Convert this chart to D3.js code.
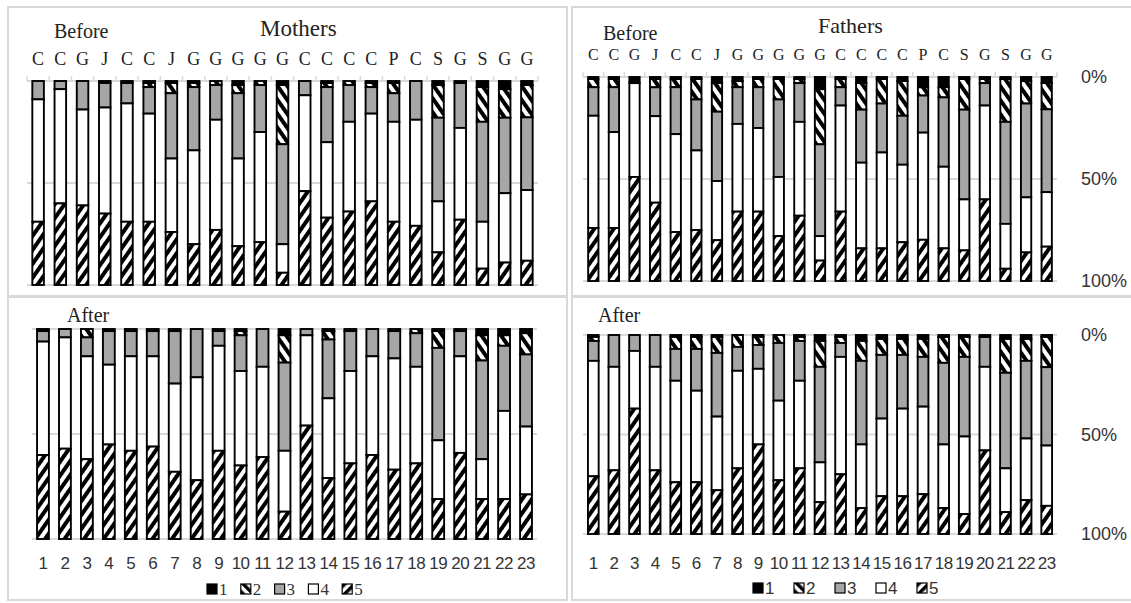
<!DOCTYPE html>
<html>
<head>
<meta charset="utf-8">
<script src="https://cdn.jsdelivr.net/npm/d3@7"></script>
<style>
  body { margin: 0; background: #fff; }
  svg { display: block; }
</style>
</head>
<body>
<svg id="chart" width="1131" height="603"></svg>
<script>
const letters = ["C","C","G","J","C","C","J","G","G","G","G","G","C","C","C","C","P","C","S","G","S","G","G"];
const numbers = ["1","2","3","4","5","6","7","8","9","10","11","12","13","14","15","16","17","18","19","20","21","22","23"];
const levels = ["1","2","3","4","5"];
const pctTicks = ["0%","50%","100%"];

// shares per respondent, levels 1..5 (stacked top to bottom)
const mothersBefore = [
  [0,0,9,60,31],[0,0,4,56,40],[0,0,14,47,39],[1,0,12,52,35],[0,1,10,58,31],
  [1,2,13,53,31],[1,5,32,36,26],[1,2,31,46,20],[0,2,17,54,27],[2,4,32,43,19],
  [0,2,23,54,21],[2,29,49,14,6],[0,0,7,47,46],[1,2,27,37,33],[0,2,18,44,36],
  [1,2,13,43,41],[1,5,14,49,31],[0,0,19,52,29],[2,16,41,25,16],[1,0,22,45,32],
  [3,17,49,23,8],[4,14,37,34,11],[2,16,36,35,12]
];
const fathersBefore = [
  [1,4,14,55,26],[1,4,22,47,26],[3,0,0,46,51],[1,4,14,42,38],[1,4,23,48,24],
  [1,10,25,39,25],[3,14,34,29,20],[2,3,18,43,34],[1,4,20,41,34],[1,10,38,29,22],
  [1,2,19,46,32],[6,27,45,12,10],[1,4,9,52,34],[3,13,26,42,16],[1,12,24,47,16],
  [2,17,24,38,19],[5,4,18,52,20],[5,5,34,40,16],[1,15,44,25,15],[1,2,11,46,40],
  [1,21,50,22,6],[2,11,46,27,14],[3,13,41,27,17]
];
const mothersAfter = [
  [1,0,5,54,40],[0,0,4,53,43],[0,4,9,49,38],[0,1,16,38,45],[0,1,12,45,42],
  [0,1,12,43,44],[0,1,25,42,32],[0,0,23,49,28],[0,1,7,50,42],[1,2,17,45,35],
  [0,0,18,43,39],[3,13,42,29,13],[0,0,3,43,54],[1,4,28,38,29],[0,1,19,44,36],
  [0,0,13,47,40],[0,1,13,53,33],[0,2,16,46,36],[1,8,44,28,19],[0,1,12,46,41],
  [3,12,47,19,19],[3,5,31,42,19],[2,10,34,32,21]
];
const fathersAfter = [
  [1,2,10,58,29],[0,0,16,52,32],[0,0,8,29,63],[0,0,16,52,32],[1,6,16,51,26],
  [1,6,21,46,26],[1,8,32,37,22],[0,6,12,49,33],[1,4,12,38,45],[0,4,29,40,27],
  [1,2,20,44,33],[3,13,48,20,16],[1,3,7,59,30],[3,10,42,32,13],[2,8,32,39,19],
  [2,8,27,44,19],[2,9,25,44,20],[1,13,41,32,13],[1,10,40,39,10],[1,0,15,42,42],
  [2,17,48,22,11],[2,11,39,31,17],[1,15,39,30,14]
];

const svg = d3.select("#chart");
const serif = "'Liberation Serif', 'Times New Roman', serif";
const sans = "'Liberation Sans', Arial, sans-serif";
const gridColor = "#d9d9d9";

// hatch patterns
const defs = svg.append("defs");
function hatch(id, angle, size) {
  defs.append("pattern")
    .attr("id", id)
    .attr("patternUnits", "userSpaceOnUse")
    .attr("width", size).attr("height", size)
    .attr("patternTransform", "rotate(" + angle + ")")
    .call(p => {
      p.append("rect").attr("width", size).attr("height", size).attr("fill", "#fff");
      p.append("rect").attr("width", size / 2).attr("height", size).attr("fill", "#000");
    });
}
hatch("hatchBack", -35, 8);  // level 2 "\"
hatch("hatchFwd", 35, 8);    // level 5 "/"
hatch("legBack", -45, 7);
hatch("legFwd", 45, 7);

const fills = { "1": "#000", "2": "url(#hatchBack)", "3": "#a6a6a6", "4": "#fff", "5": "url(#hatchFwd)" };
const legFills = { "1": "#000", "2": "url(#legBack)", "3": "#a6a6a6", "4": "#fff", "5": "url(#legFwd)" };

// panel frames
const frames = [[8,7,559,289],[572,7,565,289],[8,297,559,303],[572,297,565,303]];
svg.selectAll("rect.frame").data(frames).enter().append("rect")
  .attr("class", "frame")
  .attr("x", d => d[0]).attr("y", d => d[1])
  .attr("width", d => d[2]).attr("height", d => d[3])
  .attr("fill", "none").attr("stroke", gridColor).attr("stroke-width", 2);

const stack = d3.stack()
  .keys(d3.range(5))
  .value((d, k) => d[k])
  .offset(d3.stackOffsetExpand);

function panel(opts) {
  const g = svg.append("g");
  const x = d3.scaleBand().domain(d3.range(23)).range([opts.x0, opts.x1]).paddingInner(opts.pad).paddingOuter(opts.pad / 2);
  const y = d3.scaleLinear().domain([0, 1]).range([opts.y0, opts.y1]);

  // gridlines
  g.selectAll("line.grid").data([0, 0.5, 1]).enter().append("line")
    .attr("x1", opts.x0).attr("x2", opts.x1)
    .attr("y1", d => y(d)).attr("y2", d => y(d))
    .attr("stroke", gridColor).attr("stroke-width", 2);

  if (opts.top) {
    // category axis on top with upward ticks
    const ticks = d3.range(24).map(i => opts.x0 + i * x.step());
    g.selectAll("line.tick").data(ticks).enter().append("line")
      .attr("x1", d => d).attr("x2", d => d)
      .attr("y1", y(0)).attr("y2", y(0) - 5)
      .attr("stroke", gridColor).attr("stroke-width", 1.5);
    g.selectAll("text.cat").data(letters).enter().append("text")
      .attr("x", (d, i) => x(i) + x.bandwidth() / 2)
      .attr("y", opts.labelY)
      .attr("text-anchor", "middle")
      .attr("font-family", serif).attr("font-size", opts.catSize).attr("fill", "#222")
      .text(d => d);
  } else {
    g.selectAll("text.num").data(numbers).enter().append("text")
      .attr("x", (d, i) => x(i) + x.bandwidth() / 2)
      .attr("y", opts.labelY)
      .attr("text-anchor", "middle")
      .attr("font-family", sans).attr("font-size", 17).attr("fill", "#333")
      .attr("letter-spacing", -0.5)
      .text(d => d);
  }

  const series = stack(opts.data);
  g.selectAll("g.series").data(series).enter().append("g")
    .attr("fill", d => fills[levels[d.key]])
    .selectAll("rect").data(d => d).enter().append("rect")
    .attr("x", (d, i) => x(i))
    .attr("width", x.bandwidth())
    .attr("y", d => y(d[0]))
    .attr("height", d => Math.max(0, y(d[1]) - y(d[0])))
    .attr("stroke", "#000").attr("stroke-width", 1.9);

  if (opts.right) {
    g.selectAll("text.pct").data(pctTicks).enter().append("text")
      .attr("x", 1081)
      .attr("y", (d, i) => y(i / 2) + 6)
      .attr("font-family", sans).attr("font-size", 18).attr("fill", "#333")
      .text(d => d);
  }

  // titles
  opts.titles.forEach(t => {
    g.append("text").attr("x", t[1]).attr("y", t[2])
      .attr("font-family", serif).attr("font-size", t[3]).attr("fill", "#222")
      .text(t[0]);
  });

  if (opts.legend) {
    const lg = g.selectAll("g.leg").data(levels).enter().append("g")
      .attr("transform", (d, i) => "translate(" + (opts.legend.x + i * opts.legend.step) + "," + opts.legend.y + ")");
    lg.append("rect").attr("x", 0).attr("y", -10).attr("width", 10).attr("height", 10)
      .attr("fill", d => legFills[d]).attr("stroke", "#000").attr("stroke-width", 1.2);
    lg.append("text").attr("x", 12).attr("y", 1)
      .attr("font-family", opts.legend.font).attr("font-size", 17).attr("fill", "#333")
      .text(d => d);
  }
}

panel({ data: mothersBefore, x0: 27, x1: 538, y0: 81, y1: 285, pad: 0.48, top: true,
  labelY: 65, catSize: 18,
  titles: [["Before", 54, 38, 20], ["Mothers", 260, 36, 23]] });
panel({ data: fathersBefore, x0: 583, x1: 1057, y0: 77, y1: 281, pad: 0.5, top: true, right: true,
  labelY: 60, catSize: 16,
  titles: [["Before", 603, 40, 20], ["Fathers", 818, 33, 22]] });
panel({ data: mothersAfter, x0: 32, x1: 537, y0: 329, y1: 539, pad: 0.46, top: false,
  labelY: 569,
  titles: [["After", 67, 322, 20]],
  legend: { x: 207, y: 594, step: 33.8, font: serif } });
panel({ data: fathersAfter, x0: 583, x1: 1057, y0: 335, y1: 534, pad: 0.48, top: false, right: true,
  labelY: 569,
  titles: [["After", 598, 322, 20]],
  legend: { x: 753, y: 593, step: 41, font: sans } });
</script>
</body>
</html>
